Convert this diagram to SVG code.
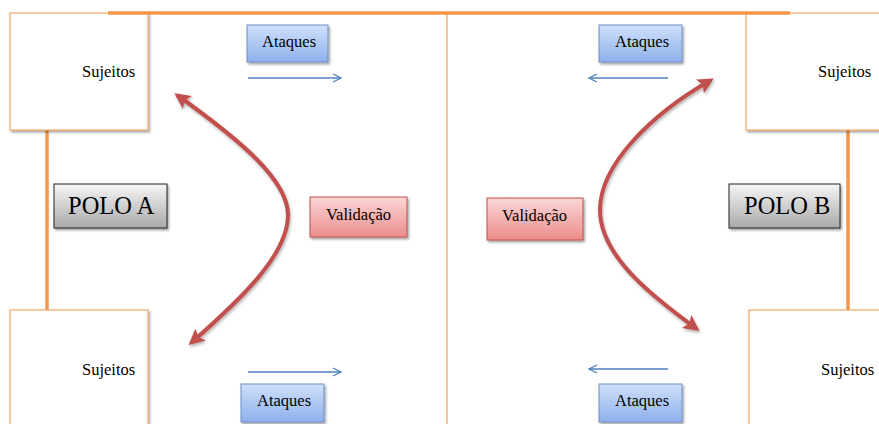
<svg xmlns="http://www.w3.org/2000/svg" width="879" height="424" viewBox="0 0 879 424">
<style>
.suj{fill:#ffffff;stroke:#f0a868;stroke-width:1.2;filter:url(#sh)}
.lbl{font-family:"Liberation Serif","Times New Roman",serif;font-size:16.5px;fill:#000}
.polo{font-family:"Liberation Serif","Times New Roman",serif;font-size:24.5px;fill:#000}
.atk{fill:url(#gBlue);stroke:#6d8fc6;stroke-width:1;filter:url(#sh)}
.val{fill:url(#gRed);stroke:#c0504d;stroke-width:1;filter:url(#sh)}
.pol{fill:url(#gGray);stroke:#222;stroke-width:1;filter:url(#sh)}
.barr{fill:none;stroke:#4f81bd;stroke-width:1.3;marker-end:url(#open)}
.rarr{fill:none;stroke:#c0504d;stroke-width:4;marker-start:url(#red);marker-end:url(#red);filter:url(#sh2)}
.thick{stroke:#f79646;stroke-width:3.5}
.thin{stroke:#f3b37a;stroke-width:1.5}
</style>
<defs>
<linearGradient id="gBlue" x1="0" y1="0" x2="0" y2="1"><stop offset="0" stop-color="#cfe0fb"/><stop offset="1" stop-color="#8fb0ea"/></linearGradient>
<linearGradient id="gRed" x1="0" y1="0" x2="0" y2="1"><stop offset="0" stop-color="#fbd6d6"/><stop offset="1" stop-color="#ec8c8c"/></linearGradient>
<linearGradient id="gGray" x1="0" y1="0" x2="0" y2="1"><stop offset="0" stop-color="#f6f6f6"/><stop offset="1" stop-color="#a9a9a9"/></linearGradient>
<filter id="sh" x="-10%" y="-10%" width="130%" height="140%"><feDropShadow dx="1.5" dy="2" stdDeviation="1.2" flood-color="#000" flood-opacity="0.35"/></filter>
<filter id="sh2" x="-20%" y="-20%" width="140%" height="140%"><feDropShadow dx="1" dy="2" stdDeviation="1.5" flood-color="#000" flood-opacity="0.3"/></filter>
<marker id="open" viewBox="0 0 10 10" refX="9" refY="5" markerWidth="10" markerHeight="10" markerUnits="userSpaceOnUse" orient="auto"><polyline points="1,1 9,5 1,9" fill="none" stroke="#4f81bd" stroke-width="1.3"/></marker>
<marker id="red" viewBox="0 0 10 10" refX="8" refY="5" markerWidth="4" markerHeight="4" orient="auto-start-reverse"><path d="M0,0 L10,5 L0,10 L2,5 Z" fill="#c0504d"/></marker>
</defs>

<g id="frame">
<line class="thin" x1="447" y1="13" x2="447" y2="424"/>
<line class="thick" x1="47" y1="130" x2="47" y2="310"/>
<line class="thick" x1="848" y1="130" x2="848" y2="310"/>
</g>

<g id="sujeitos-tl"><rect class="suj" x="10" y="13" width="138" height="117"/><text class="lbl" x="82" y="77">Sujeitos</text></g>
<g id="sujeitos-bl"><rect class="suj" x="10" y="310" width="138" height="130"/><text class="lbl" x="82" y="375">Sujeitos</text></g>
<g id="sujeitos-tr"><rect class="suj" x="746" y="13" width="140" height="117"/><text class="lbl" x="818" y="77">Sujeitos</text></g>
<g id="sujeitos-br"><rect class="suj" x="749" y="310" width="140" height="130"/><text class="lbl" x="821" y="375">Sujeitos</text></g>

<g id="topline"><line class="thick" x1="108" y1="13" x2="790" y2="13"/></g>

<g id="polo-a"><rect class="pol" x="54" y="184" width="113" height="44"/><text class="polo" x="68" y="214">POLO A</text></g>
<g id="polo-b"><rect class="pol" x="729" y="184" width="111" height="44"/><text class="polo" x="744" y="214">POLO B</text></g>

<g id="ataques-tl"><rect class="atk" x="247" y="25" width="81" height="37"/><text class="lbl" x="262" y="47">Ataques</text></g>
<g id="ataques-tr"><rect class="atk" x="599" y="25" width="83" height="37"/><text class="lbl" x="615" y="47">Ataques</text></g>
<g id="ataques-bl"><rect class="atk" x="241" y="384" width="83" height="38"/><text class="lbl" x="257" y="406">Ataques</text></g>
<g id="ataques-br"><rect class="atk" x="599" y="384" width="83" height="38"/><text class="lbl" x="615" y="406">Ataques</text></g>

<g id="validacao-a"><rect class="val" x="310" y="197" width="97" height="40"/><text class="lbl" x="326" y="220">Validação</text></g>
<g id="validacao-b"><rect class="val" x="487" y="198" width="96" height="42"/><text class="lbl" x="502" y="221">Validação</text></g>

<g id="connectors">
<line class="barr" x1="248" y1="78" x2="341" y2="78"/>
<line class="barr" x1="668" y1="78" x2="589" y2="78"/>
<line class="barr" x1="248" y1="372" x2="341" y2="372"/>
<line class="barr" x1="668" y1="369" x2="589" y2="369"/>
<path class="rarr" d="M177,95 C240,140 288,180 288,215 C288,255 240,300 191,343"/>
<path class="rarr" d="M711,80 C650,115 600,165 600,210 C600,255 650,295 697,329"/>
</g>
</svg>
